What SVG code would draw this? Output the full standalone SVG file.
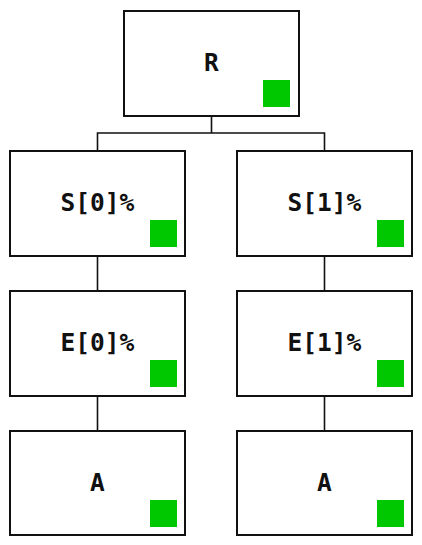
<svg xmlns="http://www.w3.org/2000/svg" width="422" height="545" viewBox="0 0 422 545">
<style>
.box{fill:#fff;stroke:#111;stroke-width:2}
.mark{fill:#00c800}
.lbl{font-family:"DejaVu Sans Mono","Liberation Mono",monospace;font-weight:bold;font-size:24.5px;fill:#111;text-anchor:middle}
.con{stroke:#111;stroke-width:1.6;fill:none}
</style>
<rect width="422" height="545" fill="#fff"/>
<g id="connectors">
<path class="con" d="M211.5 116V133M97.5 150V133H324.5V150M97.5 256V290M324.5 256V290M97.5 396V430M324.5 396V430"/>
</g>
<g id="R"><rect class="box" x="124" y="11" width="175" height="105"/><rect class="mark" x="263" y="80" width="27" height="27"/><text class="lbl" x="211.5" y="71">R</text></g>
<g id="S0"><rect class="box" x="10" y="151" width="175" height="105"/><rect class="mark" x="150" y="220" width="27" height="27"/><text class="lbl" x="97.5" y="211">S[0]%</text></g>
<g id="S1"><rect class="box" x="237" y="151" width="175" height="105"/><rect class="mark" x="377" y="220" width="27" height="27"/><text class="lbl" x="324.5" y="211">S[1]%</text></g>
<g id="E0"><rect class="box" x="10" y="291" width="175" height="105"/><rect class="mark" x="150" y="360" width="27" height="27"/><text class="lbl" x="97.5" y="351">E[0]%</text></g>
<g id="E1"><rect class="box" x="237" y="291" width="175" height="105"/><rect class="mark" x="377" y="360" width="27" height="27"/><text class="lbl" x="324.5" y="351">E[1]%</text></g>
<g id="A0"><rect class="box" x="10" y="431" width="175" height="104"/><rect class="mark" x="150" y="500" width="27" height="27"/><text class="lbl" x="97.5" y="491">A</text></g>
<g id="A1"><rect class="box" x="237" y="431" width="175" height="104"/><rect class="mark" x="377" y="500" width="27" height="27"/><text class="lbl" x="324.5" y="491">A</text></g>
</svg>
